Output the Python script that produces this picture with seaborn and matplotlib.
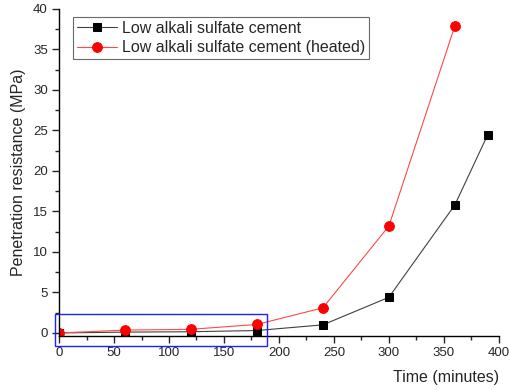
import numpy as np
import pandas as pd
import seaborn as sns
import matplotlib.pyplot as plt
from matplotlib.patches import Rectangle
from matplotlib.ticker import MultipleLocator

# Penetration resistance over time
time_plain = [0, 60, 120, 180, 240, 300, 360, 390]
res_plain = [0.0, 0.1, 0.15, 0.3, 1.0, 4.4, 15.8, 24.5]
time_heated = [0, 60, 120, 180, 240, 300, 360]
res_heated = [0.0, 0.35, 0.45, 1.05, 3.1, 13.2, 37.9]

label_plain = 'Low alkali sulfate cement'
label_heated = 'Low alkali sulfate cement (heated)'

sns.set_style("ticks")
plt.rcParams['font.family'] = ['Liberation Sans', 'DejaVu Sans']

df = pd.concat([
    pd.DataFrame({'time': time_plain, 'res': res_plain, 'series': label_plain}),
    pd.DataFrame({'time': time_heated, 'res': res_heated, 'series': label_heated}),
])

fig = plt.figure(figsize=(5.09, 3.90), dpi=100)
ax = fig.add_axes([0.116, 0.138, 0.864, 0.839])

sns.lineplot(data=df[df.series == label_plain], x='time', y='res', ax=ax,
             color='#404040', lw=0.8, marker='s', markersize=6, markerfacecolor='black',
             markeredgecolor='black', label=label_plain)
sns.lineplot(data=df[df.series == label_heated], x='time', y='res', ax=ax,
             color='#ff4848', lw=0.8, marker='o', markersize=7, markerfacecolor='red',
             markeredgecolor='red', label=label_heated)

# highlight box around early-age points
ax.add_patch(Rectangle((-3.6, -1.6), 192.6, 3.95, fill=False, edgecolor='#2020ff',
                       lw=1.0, clip_on=False, zorder=5))

ax.set_xlim(0, 400)
ax.set_ylim(-0.4, 40)
ax.xaxis.set_major_locator(MultipleLocator(50))
ax.xaxis.set_minor_locator(MultipleLocator(25))
ax.yaxis.set_major_locator(MultipleLocator(5))
ax.yaxis.set_minor_locator(MultipleLocator(2.5))
ax.tick_params(which='major', length=5, width=1, labelsize=9.5, direction='out', pad=3)
ax.tick_params(which='minor', length=3, width=1, direction='out')
for s in ['left', 'bottom']:
    ax.spines[s].set_linewidth(1.0)
    ax.spines[s].set_color('black')
sns.despine(ax=ax)

ax.set_xlabel('')
ax.set_ylabel('Penetration resistance (MPa)', fontsize=11.5, labelpad=5)
fig.text(0.981, 0.012, 'Time (minutes)', ha='right', va='bottom', fontsize=11.5)

leg = ax.legend(loc='upper left', bbox_to_anchor=(0.032, 0.976), fontsize=11.5,
                frameon=True, fancybox=False, edgecolor='#444444', handlelength=2.5,
                borderpad=0.25, labelspacing=0.28, handletextpad=0.3, borderaxespad=0)
leg.get_frame().set_linewidth(0.8)

plt.savefig('out.png', dpi=100)
